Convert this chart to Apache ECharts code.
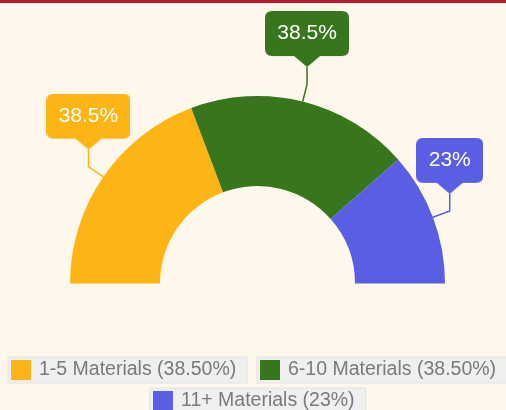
<!DOCTYPE html>
<html>
<head>
<meta charset="utf-8">
<script src="https://cdn.jsdelivr.net/npm/echarts@6/dist/echarts.min.js"></script>
<style>
  html, body { margin: 0; padding: 0; background: #fef8ec; }
  #chart { width: 506px; height: 407px; border-top: 3px solid #b81c2e; }
</style>
</head>
<body>
<div id="chart"></div>
<script>
// data
var names = ['1-5 Materials', '6-10 Materials', '11+ Materials'];
var values = [38.5, 38.5, 23];
var sliceLabels = ['38.5%', '38.5%', '23%'];
var legendLabels = ['38.50%', '38.50%', '23%'];
var colors = ['#fdb515', '#38761d', '#5a5ee3'];

var labelFont = '21px "Liberation Sans"';
var padX = 12, padY = 11, lineH = 23, tipH = 11, tipW = 26;

function textWidth(text) {
  var g = document.createElement('canvas').getContext('2d');
  g.font = labelFont;
  return Math.ceil(g.measureText(text).width);
}

// callout box with a pointer under it, drawn to the label's own size
function calloutImage(text, color) {
  var c = document.createElement('canvas');
  var g = c.getContext('2d');
  var w = textWidth(text) + padX * 2;
  var bh = lineH + padY * 2;
  c.width = w; c.height = bh + tipH;
  g.fillStyle = color;
  var r = 7;
  g.beginPath();
  g.moveTo(r, 0); g.lineTo(w - r, 0); g.quadraticCurveTo(w, 0, w, r);
  g.lineTo(w, bh - r); g.quadraticCurveTo(w, bh, w - r, bh);
  g.lineTo(w / 2 + tipW / 2, bh); g.lineTo(w / 2, bh + tipH); g.lineTo(w / 2 - tipW / 2, bh);
  g.lineTo(r, bh); g.quadraticCurveTo(0, bh, 0, bh - r);
  g.lineTo(0, r); g.quadraticCurveTo(0, 0, r, 0);
  g.closePath();
  g.fill();
  return c;
}

var chart = echarts.init(document.getElementById('chart'));

var pieData = names.map(function (n, i) {
  return {
    name: n,
    value: values[i],
    itemStyle: { color: colors[i] },
    label: {
      formatter: sliceLabels[i],
      width: textWidth(sliceLabels[i]),
      backgroundColor: { image: calloutImage(sliceLabels[i], colors[i]) }
    }
  };
});

function legendFor(i, left, top) {
  return {
    data: [names[i]],
    left: left,
    top: top,
    itemWidth: 20,
    itemHeight: 20,
    icon: 'rect',
    backgroundColor: '#efefef',
    borderColor: '#e3e3e3',
    borderWidth: 1,
    padding: [3, 11, 3, 3],
    selectedMode: false,
    formatter: function (n) { return n + ' (' + legendLabels[i] + ')'; },
    textStyle: {
      color: '#7a7a7a',
      fontSize: 19.5,
      fontFamily: 'Liberation Sans',
      padding: [0, 0, 0, 3]
    }
  };
}

chart.setOption({
  backgroundColor: '#fef8ec',
  animation: false,
  legend: [
    legendFor(0, 8, 354),
    legendFor(1, 257, 354),
    legendFor(2, 150, 385)
  ],
  series: [{
    type: 'pie',
    center: [257.5, 280.5],
    radius: [97.5, 187.5],
    startAngle: 180,
    endAngle: 0,
    data: pieData,
    label: {
      show: true,
      position: 'outside',
      overflow: 'none',
      align: 'center',
      color: '#fff',
      fontSize: 21,
      lineHeight: lineH,
      fontFamily: 'Liberation Sans',
      padding: [padY, padX, padY + tipH, padX]
    },
    labelLine: {
      show: true,
      length: 18,
      length2: 0,
      lineStyle: { width: 1.5 }
    },
    labelLayout: function (params) {
      var p = params.labelLinePoints;
      if (!p) return {};
      var bend = p[1];
      var tipY = bend[1] - 17;
      return {
        x: bend[0],
        y: tipY,
        align: 'center',
        verticalAlign: 'bottom',
        labelLinePoints: [p[0], bend, [bend[0], tipY]]
      };
    },
    emphasis: { scale: false }
  }]
});
</script>
</body>
</html>
